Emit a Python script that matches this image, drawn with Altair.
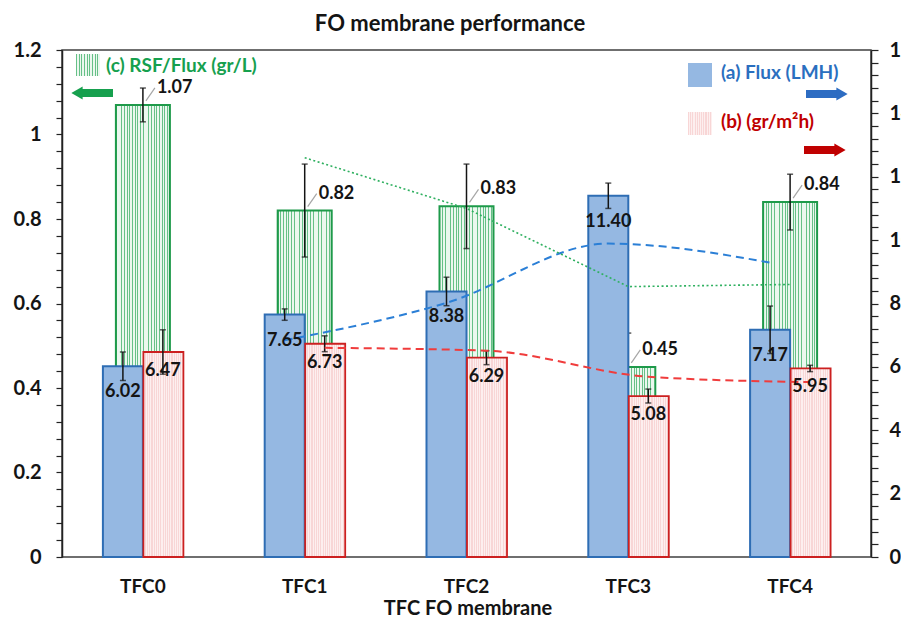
import altair as alt
import pandas as pd

# ---------------- data ----------------
categories = ["TFC0", "TFC1", "TFC2", "TFC3", "TFC4"]
flux = [6.02, 7.65, 8.38, 11.40, 7.17]            # (a) Flux (LMH), right axis
flux_err = [0.45, 0.18, 0.45, 0.40, 0.75]
rsf = [6.47, 6.73, 6.29, 5.08, 5.95]              # (b) (gr/m2h), right axis
rsf_err = [0.70, 0.25, 0.22, 0.22, 0.10]
ratio = [1.07, 0.82, 0.83, 0.45, 0.84]            # (c) RSF/Flux (gr/L), left axis
ratio_err = [0.04, 0.11, 0.10, 0.08, 0.066]
flux_trend = [None, 6.84, 8.02, 9.89, 9.29]       # moving-average trend lines as drawn
rsf_trend = [None, 6.60, 6.51, 5.69, 5.52]
ratio_trend = [None, 0.945, 0.825, 0.64, 0.645]

df = pd.DataFrame({
    "cat": categories,
    "flux": flux, "flux_err": flux_err,
    "rsf": rsf, "rsf_err": rsf_err,
    "ratio": ratio, "ratio_err": ratio_err,
    "flux_trend": flux_trend, "rsf_trend": rsf_trend, "ratio_trend": ratio_trend,
})
for c in ["flux", "rsf", "ratio"]:
    df[c + "_lo"] = df[c] - df[c + "_err"]
    df[c + "_hi"] = df[c] + df[c + "_err"]

# ---------------- styles ----------------
FONT = "Lato"
TXT = "#141414"
GREEN = "#16a04e"
BLUE = "#2a6fbf"
RED = "#c00000"
W, H = 809, 507


def stripes(c1, c2, n, frac):
    stops = []
    for i in range(n):
        a, b, c = i / n, (i + frac) / n, (i + 1) / n
        stops += [{"offset": a, "color": c1}, {"offset": b, "color": c1},
                  {"offset": b, "color": c2}, {"offset": c, "color": c2}]
    return {"gradient": "linear", "x1": 0, "x2": 1, "y1": 0, "y2": 0, "stops": stops}


green_fill = stripes("#66c087", "#ebf7ef", 20, 0.32)
green_fill_small = stripes("#66c087", "#ebf7ef", 9, 0.32)
red_fill = stripes("#f8d6d6", "#fdefef", 22, 0.5)
red_fill_small = stripes("#f8d6d6", "#fdefef", 11, 0.5)

XS = alt.Scale(domain=categories, paddingInner=0, paddingOuter=0)

left_vals = [round(i * 0.04, 2) for i in range(31)]
right_vals = [round(i * 0.4, 1) for i in range(41)]

left_axis = alt.Axis(orient="left", values=left_vals, title=None, grid=False,
                     labelExpr="abs(datum.value*5 - round(datum.value*5)) < 0.001 ? format(datum.value, '~g') : ''",
                     labelOverlap=False, tickSize=6, tickColor="#222", tickWidth=1.2,
                     domainColor="#222", domainWidth=1.5, labelFont=FONT,
                     labelFontSize=20, labelFontWeight="bold", labelColor=TXT,
                     labelPadding=15, zindex=1)
right_axis = alt.Axis(orient="right", values=right_vals, title=None, grid=False,
                      labelExpr="abs(datum.value/2 - round(datum.value/2)) < 0.001 ? format(datum.value, '~g') : ''",
                      labelOverlap=False, tickSize=7, tickColor="#222", tickWidth=1.2,
                      domainColor="#222", domainWidth=1.5, labelFont=FONT,
                      labelFontSize=20, labelFontWeight="bold", labelColor=TXT,
                      labelPadding=11, zindex=1)


def X():
    return alt.X("cat:N", scale=XS, axis=None)


def YLq(field, axis=None):
    return alt.Y(field, type="quantitative",
                 scale=alt.Scale(domain=[0, 1.2], nice=False, zero=True), axis=axis)


def YRq(field, axis=None):
    return alt.Y(field, type="quantitative",
                 scale=alt.Scale(domain=[0, 16], nice=False, zero=True), axis=axis)


base = alt.Chart(df)

layers = []
# ---------- green bars (left scale) ----------
layers.append(base.mark_bar(width=54, fill=green_fill, stroke="#1e9a4a", strokeWidth=2).encode(
    x=X(), y=YLq("ratio", left_axis)))
layers.append(base.mark_rule(color=TXT, strokeWidth=1.5).encode(
    x=X(), y=YLq("ratio_lo"), y2="ratio_hi:Q"))
layers.append(base.mark_tick(orient="horizontal", size=6, thickness=1.5, color=TXT).encode(
    x=X(), y=YLq("ratio_hi")))
layers.append(base.mark_tick(orient="horizontal", size=6, thickness=1.5, color=TXT).encode(
    x=X(), y=YLq("ratio_lo")))

# ---------- blue & red bars (right scale) ----------
layers.append(base.mark_bar(width=40, xOffset=-20, fill="#95b8e2", stroke="#2e6db4", strokeWidth=2).encode(
    x=X(), y=YRq("flux", right_axis)))
layers.append(base.mark_bar(width=40, xOffset=20.5, fill=red_fill, stroke="#cc2020", strokeWidth=1.8).encode(
    x=X(), y=YRq("rsf")))

for field, off in [("flux", -20), ("rsf", 20)]:
    layers.append(base.mark_rule(color=TXT, strokeWidth=1.5, xOffset=off).encode(
        x=X(), y=YRq(field + "_lo"), y2=field + "_hi:Q"))
    layers.append(base.mark_tick(orient="horizontal", size=6, thickness=1.5, color=TXT, xOffset=off).encode(
        x=X(), y=YRq(field + "_hi")))
    layers.append(base.mark_tick(orient="horizontal", size=6, thickness=1.5, color=TXT, xOffset=off).encode(
        x=X(), y=YRq(field + "_lo")))

layers.append(base.mark_line(color="#2b7fd6", strokeWidth=2, strokeDash=[8, 5],
                             interpolate="monotone", xOffset=-20).encode(
    x=X(), y=YRq("flux_trend")))
layers.append(base.mark_line(color="#f03c3c", strokeWidth=2, strokeDash=[8, 5],
                             interpolate="monotone", xOffset=20).encode(
    x=X(), y=YRq("rsf_trend")))
layers.append(base.mark_text(xOffset=-20, dy=26, font=FONT, fontSize=18, fontWeight="bold", color=TXT).encode(
    x=X(), y=YRq("flux"), text=alt.Text("flux:Q", format=".2f")))
layers.append(base.mark_text(xOffset=20, dy=19, font=FONT, fontSize=18, fontWeight="bold", color=TXT).encode(
    x=X(), y=YRq("rsf"), text=alt.Text("rsf:Q", format=".2f")))

# ---------- green trend + labels (left scale) ----------
layers.append(base.mark_line(color="#2fb060", strokeWidth=1.6, strokeDash=[2, 2.5]).encode(
    x=X(), y=YLq("ratio_trend")))
layers.append(base.mark_rule(color="#a6a6a6", strokeWidth=1.2, xOffset=3, x2Offset=12,
                             yOffset=-4, y2Offset=-17).encode(
    x=alt.X("cat:N", scale=XS, axis=None, bandPosition=0.5),
    x2=alt.X2("cat:N", bandPosition=0.5),
    y=YLq("ratio"), y2="ratio:Q"))
layers.append(base.mark_text(align="left", dx=14, dy=-17, font=FONT, fontSize=18,
                             fontWeight="bold", color=TXT).encode(
    x=X(), y=YLq("ratio"), text=alt.Text("ratio:Q", format=".2f")))

# ---------- category labels under the plot (through the x scale) ----------
layers.append(base.mark_text(font=FONT, fontSize=19, fontWeight="bold", color=TXT,
                             baseline="middle").encode(
    x=X(), y=alt.value(H + 30), text="cat:N"))

# ---------- texts, legend (pixel positions relative to the plot) ----------
one = alt.Chart(pd.DataFrame({"k": [0]}))


def swatch(fill, x0, x1, y0, y1):
    return one.mark_rect(fill=fill).encode(x=alt.value(x0), x2=alt.value(x1),
                                            y=alt.value(y0), y2=alt.value(y1))


def label(text, color, x0, y0, size=19, align="left", baseline="middle"):
    return one.mark_text(text=text, align=align, baseline=baseline, font=FONT,
                         fontSize=size, fontWeight="bold", color=color).encode(
        x=alt.value(x0), y=alt.value(y0))


def arrow(color, x0, x1, y0, head_x, shape):
    body = one.mark_rule(color=color, strokeWidth=8).encode(
        x=alt.value(x0), x2=alt.value(x1), y=alt.value(y0))
    head = one.mark_point(shape=shape, filled=True, size=170, color=color, opacity=1).encode(
        x=alt.value(head_x), y=alt.value(y0))
    return [body, head]


extras = [
    label("FO membrane performance", TXT, 388, -26, size=22, align="center"),
    label("TFC FO membrane", TXT, 406, H + 58, size=20, align="center", baseline="alphabetic"),
    swatch(green_fill_small, 14, 38, 4, 26),
    label("(c) RSF/Flux (gr/L)", GREEN, 44, 16),
    *arrow(GREEN, 19, 51, 43, 15, "triangle-left"),
    swatch("#95b8e2", 626, 650, 13, 37),
    label("(a) Flux (LMH)", BLUE, 659, 23),
    *arrow("#2d6cc2", 744, 776, 44, 780, "triangle-right"),
    swatch(red_fill_small, 626, 650, 62, 85),
    label("(b) (gr/m²h)", RED, 659, 72),
    *arrow(RED, 742, 774, 100, 778, "triangle-right"),
]

chart = alt.layer(*layers, *extras).resolve_scale(
    y="independent"
).properties(
    width=W, height=H,
    autosize=alt.AutoSizeParams(type="none"),
    padding={"left": 54, "top": 42, "right": 30, "bottom": 61},
).configure_view(stroke="#404040", strokeWidth=1.5)

chart.save("out.html", embed_options={"renderer": "svg", "actions": False})
